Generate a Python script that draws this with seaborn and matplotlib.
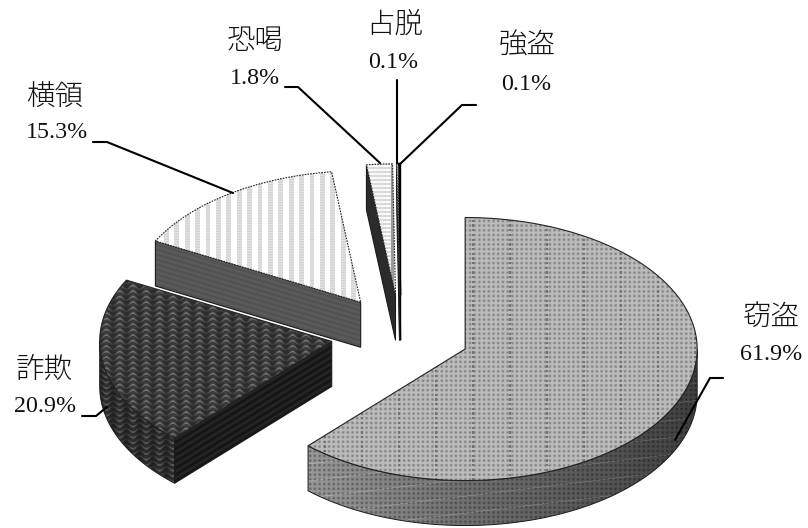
import numpy as np
import matplotlib
matplotlib.use("Agg")
import matplotlib.pyplot as plt
from matplotlib.patches import Polygon
import seaborn as sns

# Offence categories and their shares (%), clockwise from twelve o'clock
categories = ["窃盗", "詐欺", "横領", "恐喝", "占脱", "強盗"]
shares = [61.9, 20.9, 15.3, 1.8, 0.1, 0.1]
share_labels = ["61.9%", "20.9%", "15.3%", "1.8%", "0.1%", "0.1%"]

# Projected pie geometry, in figure pixels
WIDTH, HEIGHT = 808, 528
CENTER = (400.3, 334.7)
RX, RY = 232.0, 131.5
DEPTH = 45.0
EXPLODE = 0.30

Y, X = np.mgrid[0:HEIGHT, 0:WIDTH] + 0.5


def wave(values, period):
    return (np.cos(2 * np.pi * values / period) + 1) / 2


def theft_top(x, y):
    v = 0.74 - 0.24 * wave(x, 4.7) * wave(y, 4.7)
    for row in (233, 280, 297, 307, 343, 360, 406, 419, 435, 454, 469):
        v = np.where(np.abs(y - row) < 0.5, 0.84, v)
    dark_cols = np.abs(((x - 473) + 18.5) % 37 - 18.5) < 0.6
    return np.where(dark_cols & (wave(y, 4.7) > 0.5), 0.45, v)


def theft_side(x, y):
    shade = np.interp(x, [310, 470, 600, 697], [0.60, 0.44, 0.34, 0.25])
    v = shade * (1 - 0.35 * wave(x, 4.7) * wave(y, 4.7))
    return np.where(np.abs(((y + 0.12 * x) % 17) - 8) < 0.5, v + 0.08, v)


def fraud_top(x, y):
    ripple = np.sin(2 * np.pi * (y + 1.8 * np.cos(2 * np.pi * x / 13.3)) / 5.5)
    return 0.17 + 0.07 * wave(x, 13.3) + 0.22 * np.clip(ripple, 0, 1) * (0.3 + 0.7 * wave(x, 13.3))


def fraud_side(x, y):
    ripple = np.sin(2 * np.pi * (y - 1.8 * np.cos(2 * np.pi * x / 13.3)) / 5.5)
    return 0.13 + 0.05 * wave(x, 13.3) + 0.18 * np.clip(ripple, 0, 1) * (0.3 + 0.7 * wave(x, 13.3))


def fraud_cut(x, y):
    return 0.08 + 0.07 * wave(y + 0.61 * x, 6.5)


def embezzle_top(x, y):
    stripe = wave(x, 10.4) > 0.55
    return 1 - stripe * (0.11 + 0.07 * wave(y, 2.6))


def embezzle_side(x, y):
    return 0.32 + 0.04 * wave(y - 0.3 * x, 5.0)


def extort_top(x, y):
    v = 1 - 0.17 * wave(y, 4.0)
    return np.where((x > 391) & (x < 394.5), 0.6, v)


def flat(level):
    return lambda x, y: np.full_like(x, level, dtype=float)


top_textures = [theft_top, fraud_top, embezzle_top, extort_top, flat(0.95), flat(0.1)]
arc_textures = [theft_side, fraud_side, flat(0.4), flat(0.2), flat(0.1), flat(0.05)]
cut_textures = [theft_side, fraud_cut, embezzle_side, flat(0.17), flat(0.1), flat(0.05)]

# Leader lines and label anchors, one entry per category
leaders = [
    [(675, 440), (710, 378), (723, 378)],
    [(82, 416), (96, 416), (107, 407)],
    [(93, 142), (107, 142), (233, 193)],
    [(285, 87), (298, 87), (380, 163)],
    [(397, 80), (397, 163)],
    [(476, 105), (462, 105), (399, 165)],
]
name_xy = [(771, 317), (44, 370), (55, 97), (255, 41), (395, 25), (527, 45)]
value_xy = [(771, 355), (45, 407), (57, 133), (255, 78), (393, 62), (526, 85)]

sns.set_theme(style="white")
fig = plt.figure(figsize=(WIDTH / 100, HEIGHT / 100), dpi=100, facecolor="white")
ax = fig.add_axes([0, 0, 1, 1])
ax.set_axis_off()

layer = [1.0]


def arc(apex, start, end, drop=0.0):
    angles = np.radians(np.linspace(start, end, max(int(abs(end - start) * 2), 2)))
    return np.column_stack(
        [apex[0] + RX * np.sin(angles), apex[1] - RY * np.cos(angles) + drop]
    )


def textured(points, texture, edge="#1a1a1a", line=0.8, style="-"):
    layer[0] += 0.02
    image = ax.imshow(
        texture(X, Y), cmap="gray", vmin=0, vmax=1, extent=(0, WIDTH, HEIGHT, 0),
        interpolation="bilinear", aspect="auto", zorder=layer[0],
    )
    patch = Polygon(points, closed=True, facecolor="none", edgecolor=edge,
                    linewidth=line, linestyle=style, zorder=layer[0] + 0.01)
    ax.add_patch(patch)
    image.set_clip_path(patch)
    return image


total = sum(shares)
edges = np.cumsum([0.0] + shares) / total * 360.0
slices = []
for i, share in enumerate(shares):
    start, end = edges[i], edges[i + 1]
    middle = np.radians((start + end) / 2)
    apex = (CENTER[0] + EXPLODE * RX * np.sin(middle),
            CENTER[1] - EXPLODE * RY * np.cos(middle))
    slices.append((i, start, end, apex))

# Paint from the far, thin slices forward so nearer slabs overlap correctly
for i, start, end, apex in [slices[k] for k in (5, 4, 3, 2, 1, 0)]:
    line_w = 1.6 if i == 5 else 0.8
    # A radial cut shows only when the slab's body lies behind it
    visible_cuts = []
    if np.sin(np.radians(start)) < 0:
        visible_cuts.append(start)
    if np.sin(np.radians(end)) > 0:
        visible_cuts.append(end)
    for angle in visible_cuts:
        outer = arc(apex, angle, angle)[0]
        quad = [apex, tuple(outer), (outer[0], outer[1] + DEPTH), (apex[0], apex[1] + DEPTH)]
        textured(quad, cut_textures[i], edge="black" if i == 5 else "#1a1a1a", line=line_w)
    low, high = max(start, 90.0), min(end, 270.0)
    if low < high:
        upper = arc(apex, low, high)
        lower = arc(apex, low, high, DEPTH)
        textured(np.vstack([upper, lower[::-1]]), arc_textures[i], line=0.7)
    top = np.vstack([[apex], arc(apex, start, end)])
    textured(top, top_textures[i], edge="black" if i == 5 else "#222222", line=line_w,
             style=(0, (1.5, 1)) if i in (2, 3, 4) else "-")

ax.set_xlim(0, WIDTH)
ax.set_ylim(HEIGHT, 0)

for path in leaders:
    xs, ys = zip(*path)
    ax.plot(xs, ys, color="black", lw=1.5, solid_joinstyle="miter", zorder=20)

for name, value, n_xy, v_xy in zip(categories, share_labels, name_xy, value_xy):
    ax.text(*n_xy, name, family=["Noto Sans CJK JP", "DejaVu Sans"], fontweight="light",
            fontsize=20.5, ha="center", va="center", color="#111111", zorder=21)
    ax.text(*v_xy, value, family="Liberation Serif", fontsize=17.3,
            ha="center", va="center", color="#111111", zorder=21)

fig.savefig("out.png", dpi=100, facecolor="white")
